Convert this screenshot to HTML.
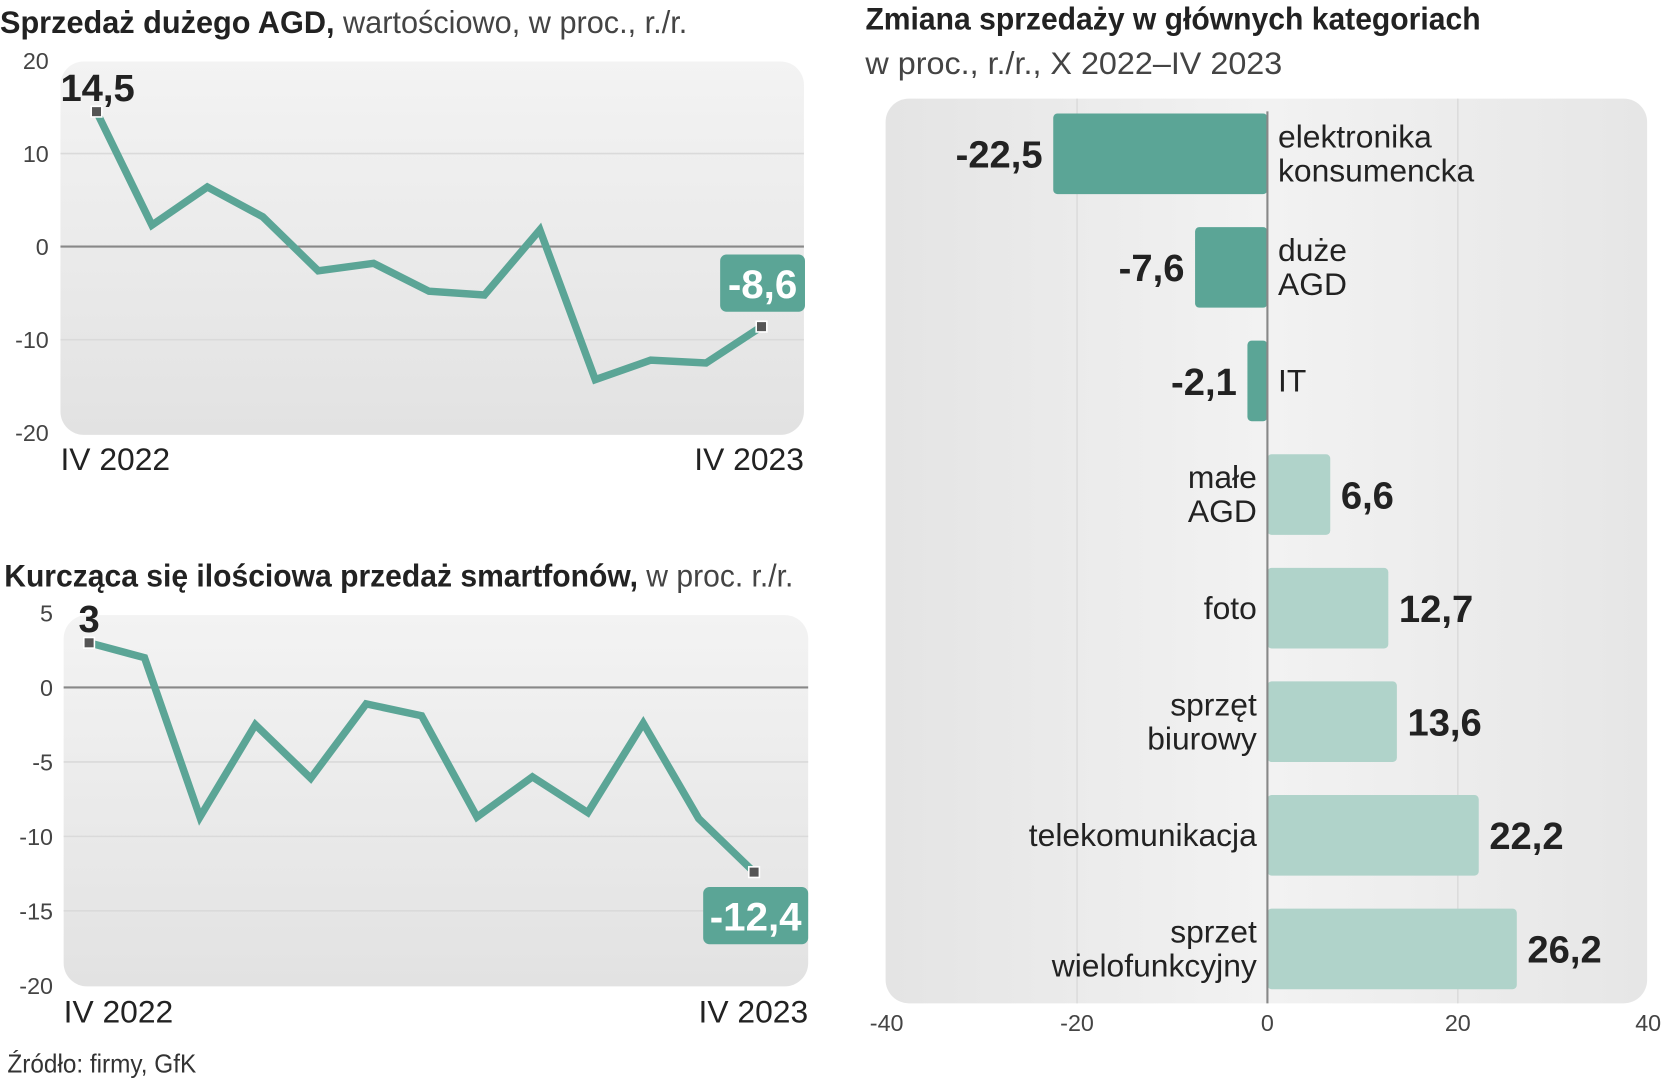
<!DOCTYPE html>
<html><head><meta charset="utf-8">
<style>
html,body{margin:0;padding:0;background:#fff;overflow:hidden;}
#wrap{width:1568px;height:1018px;transform:scale(1.0606);transform-origin:0 0;}
svg text{font-family:"Liberation Sans Narrow","Liberation Sans",sans-serif;}
</style></head><body>
<div id="wrap">
<svg id="svg" width="1568" height="1018" viewBox="0 0 1568 1018">
<defs>
<linearGradient id="pg" x1="0" y1="0" x2="0" y2="1"><stop offset="0" stop-color="#f3f3f3"/><stop offset="1" stop-color="#e2e2e2"/></linearGradient>
<linearGradient id="pg2" x1="0" y1="0" x2="1" y2="0"><stop offset="0" stop-color="#e4e4e4"/><stop offset="0.5" stop-color="#f2f2f2"/><stop offset="1" stop-color="#e6e6e6"/></linearGradient>
</defs>
<text x="0" y="31" font-size="30" fill="#222" textLength="648" lengthAdjust="spacingAndGlyphs"><tspan font-weight="bold">Sprzedaż dużego AGD,</tspan><tspan fill="#444"> wartościowo, w proc., r./r.</tspan></text>
<rect x="57" y="58" width="701" height="352" rx="22" fill="url(#pg)"/>
<g id="c1"></g>
<text x="4" y="553" font-size="30" fill="#222" textLength="744" lengthAdjust="spacingAndGlyphs"><tspan font-weight="bold">Kurcząca się ilościowa przedaż smartfonów,</tspan><tspan fill="#444"> w proc. r./r.</tspan></text>
<rect x="60" y="580" width="702" height="350" rx="22" fill="url(#pg)"/>
<g id="c2"></g>
<text x="7" y="1011" font-size="24" fill="#333" textLength="178" lengthAdjust="spacingAndGlyphs">Źródło: firmy, GfK</text>
<text x="816" y="28" font-size="30" font-weight="bold" fill="#222" textLength="580" lengthAdjust="spacingAndGlyphs">Zmiana sprzedaży w głównych kategoriach</text>
<text x="816" y="70" font-size="30" fill="#444" textLength="393" lengthAdjust="spacingAndGlyphs">w proc., r./r., X 2022–IV 2023</text>
<rect x="835" y="93" width="718" height="853" rx="22" fill="url(#pg2)"/>
<g id="c3"></g>
</svg>
</div>
<script>
const NS="http://www.w3.org/2000/svg";
const agdValues=[14.5,2.3,6.4,3.2,-2.6,-1.8,-4.8,-5.2,1.8,-14.3,-12.2,-12.5,-8.6];
const agdTicks=[20,10,0,-10,-20];
const phoneValues=[3,2,-8.7,-2.5,-6.1,-1.1,-1.9,-8.7,-6,-8.4,-2.4,-8.8,-12.4];
const phoneTicks=[5,0,-5,-10,-15,-20];
const xLabels=["IV 2022","IV 2023"];
const categories=[["elektronika","konsumencka"],["duże","AGD"],["IT"],["małe","AGD"],["foto"],["sprzęt","biurowy"],["telekomunikacja"],["sprzet","wielofunkcyjny"]];
const catValues=[-22.5,-7.6,-2.1,6.6,12.7,13.6,22.2,26.2];
const catLabels=["-22,5","-7,6","-2,1","6,6","12,7","13,6","22,2","26,2"];
const barTicks=[-40,-20,0,20,40];

function el(tag,attrs,parent,text){const e=document.createElementNS(NS,tag);for(const k in attrs)e.setAttribute(k,attrs[k]);if(text!==undefined)e.textContent=text;parent.appendChild(e);return e;}
function fmt(v){return String(v).replace('.',',');}

function lineChart(gid,vals,ticks,y0,y1,vmax,vmin,x0,x1,panelL,panelR,tickX,lastBoxBelow,prefix){
  const g=document.getElementById(gid);
  const ys=v=>y0+(vmax-v)*(y1-y0)/(vmax-vmin);
  const xs=i=>x0+i*(x1-x0)/(vals.length-1);
  ticks.forEach(t=>{
    if(t!==vmax&&t!==vmin){const l=el('line',{x1:panelL,x2:panelR,y1:ys(t),y2:ys(t),stroke:t===0?'#888':'#dadada','stroke-width':t===0?2:1.5},g);
    
    }
    const tx=el('text',{x:tickX,y:ys(t)+8,'font-size':22,fill:'#444','text-anchor':'end'},g,String(t));
    
    
  });
  const pts=vals.map((v,i)=>xs(i)+','+ys(v)).join(' ');
  const pl=el('polyline',{points:pts,fill:'none',stroke:'#5ba596','stroke-width':7,'stroke-linejoin':'miter'},g);
  
  
  [0,vals.length-1].forEach(i=>{
    const m=el('rect',{x:xs(i)-5,y:ys(vals[i])-5,width:10,height:10,fill:'#555',stroke:'#fff','stroke-width':1.5},g);
    
    
  });
  const ft=el('text',{x:xs(0)-34,y:ys(vals[0])-10,'font-size':36,'font-weight':'bold',fill:'#222'},g,fmt(vals[0]));
  if(vals[0]<10) ft.setAttribute('x',xs(0)-10);
  
  
  const li=vals.length-1, lx=xs(li), ly=ys(vals[li]);
  const bw=lastBoxBelow?99:80, bh=54;
  const by=lastBoxBelow?ly+14:ly-68;
  const bx=lastBoxBelow?lx-48:lx-39;
  const b=el('rect',{x:bx,y:by,width:bw,height:bh,rx:6,fill:'#5ba596'},g);
  
  
  const bt=el('text',{x:bx+bw/2,y:by+41,'font-size':38,'font-weight':'bold',fill:'#fff','text-anchor':'middle'},g,fmt(vals[li]));
  
  
  const xl1=el('text',{x:panelL,y:y1+35,'font-size':30,fill:'#222'},g,xLabels[0]);
  
  
  const xl2=el('text',{x:panelR,y:y1+35,'font-size':30,fill:'#222','text-anchor':'end'},g,xLabels[1]);
  
  
}
lineChart('c1',agdValues,agdTicks,57,408,20,-20,91,718,57,758,46,false,'agd');
lineChart('c2',phoneValues,phoneTicks,578,929,5,-20,84,711,60,762,50,true,'phone');

(function(){
  const g=document.getElementById('c3');
  const xs=v=>1195+v*(1553-835)/80;
  const top=145, step=107.1, bh=76;
  barTicks.forEach(t=>{
    if(t===-20||t===20){const l=el('line',{x1:xs(t),x2:xs(t),y1:93,y2:946,stroke:'#dcdcdc','stroke-width':1.5},g);
    
    }
    const tx=el('text',{x:xs(t),y:972,'font-size':22,fill:'#444','text-anchor':'middle'},g,String(t));
    
    
  });
  catValues.forEach((v,i)=>{
    const cy=top+i*step;
    const x=Math.min(xs(0),xs(v)), w=Math.abs(xs(v)-xs(0));
    const r=el('rect',{x:x,y:cy-bh/2,width:w,height:bh,rx:4,fill:v<0?'#5ba596':'#b0d3ca'},g);
    
    
    const vt=el('text',{x:v<0?xs(v)-10:xs(v)+10,y:cy+13,'font-size':36,'font-weight':'bold',fill:'#222','text-anchor':v<0?'end':'start'},g,catLabels[i]);
    
    
    const lines=categories[i];
    const ct=el('text',{x:v<0?1205:1185,'font-size':30,fill:'#222','text-anchor':v<0?'start':'end'},g);
    
    
    lines.forEach((s,j)=>{const ts=el('tspan',{x:v<0?1205:1185,y:cy+10+(j-(lines.length-1)/2)*32},ct,s);});
  });
  const z=el('line',{x1:xs(0),x2:xs(0),y1:105,y2:946,stroke:'#888','stroke-width':2},g);
  
  
})();
</script>
</body></html>
